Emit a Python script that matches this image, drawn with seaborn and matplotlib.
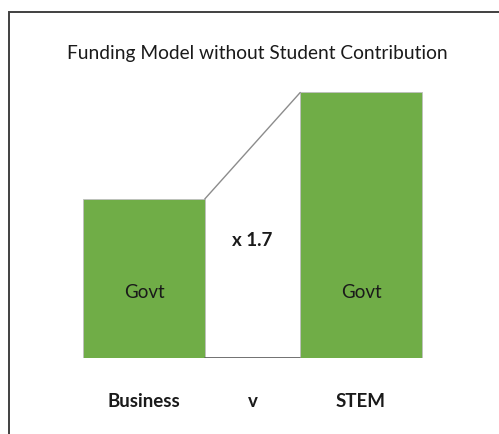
import matplotlib
matplotlib.use("Agg")
import matplotlib.pyplot as plt
from matplotlib.patches import Rectangle
import seaborn as sns
import pandas as pd

# values
categories = ["Business", "STEM"]
govt_funding = [1.0, 1.67]
tick_labels = ["Business", "v", "STEM"]

df = pd.DataFrame({"course": categories, "govt": govt_funding})

sns.set_theme(style="white")
plt.rcParams["font.family"] = ["Lato", "DejaVu Sans"]

fig = plt.figure(figsize=(4.99, 4.34), dpi=100)
ax = fig.add_axes([0, 76 / 434, 1, 358 / 434])

sns.barplot(data=df, x="course", y="govt", color="#70AD47", saturation=1,
            width=0.56, edgecolor="#BFBFBF", linewidth=0.6, ax=ax)

ax.set_xlim(-144 / 217, 355 / 217)
ax.set_ylim(0, 358 / 159)

# connector lines between the two bars
left, right = ax.patches[0], ax.patches[1]
x0 = left.get_x() + left.get_width()
x1 = right.get_x()
ax.plot([x0, x1], [left.get_height(), right.get_height()], color="#8C8C8C", lw=1)
ax.plot([x0, x1], [0, 0], color="#595959", lw=1.2)

# labels inside bars
for p in ax.patches:
    ax.text(p.get_x() + p.get_width() / 2, 0.41, "Govt", ha="center", va="center",
            fontsize=13.5, color="#1a1a1a")

ratio = govt_funding[1] / govt_funding[0]
ax.text((x0 + x1) / 2, 0.74, f"x {ratio:.1f}", ha="center", va="center",
        fontsize=13.5, fontweight="bold", color="#1a1a1a")

ax.set_xticks([0, 0.5, 1])
ax.set_xticklabels(tick_labels, fontsize=13.5, fontweight="bold", color="#1a1a1a")
ax.tick_params(axis="x", length=0, pad=25)
ax.set_yticks([])
ax.set_xlabel("")
ax.set_ylabel("")
sns.despine(ax=ax, left=True, bottom=True)

fig.text(257 / 499, 1 - 54 / 434, "Funding Model without Student Contribution",
         ha="center", va="center", fontsize=13.8, color="#1a1a1a")

# outer frame (cut off on right and bottom)
fig.patches.append(Rectangle((9 / 499, -0.1), 1.2, 1.1 - 12 / 434,
                             transform=fig.transFigure, fill=False,
                             edgecolor="#404040", lw=1.4))

fig.savefig("out.png", dpi=100)
